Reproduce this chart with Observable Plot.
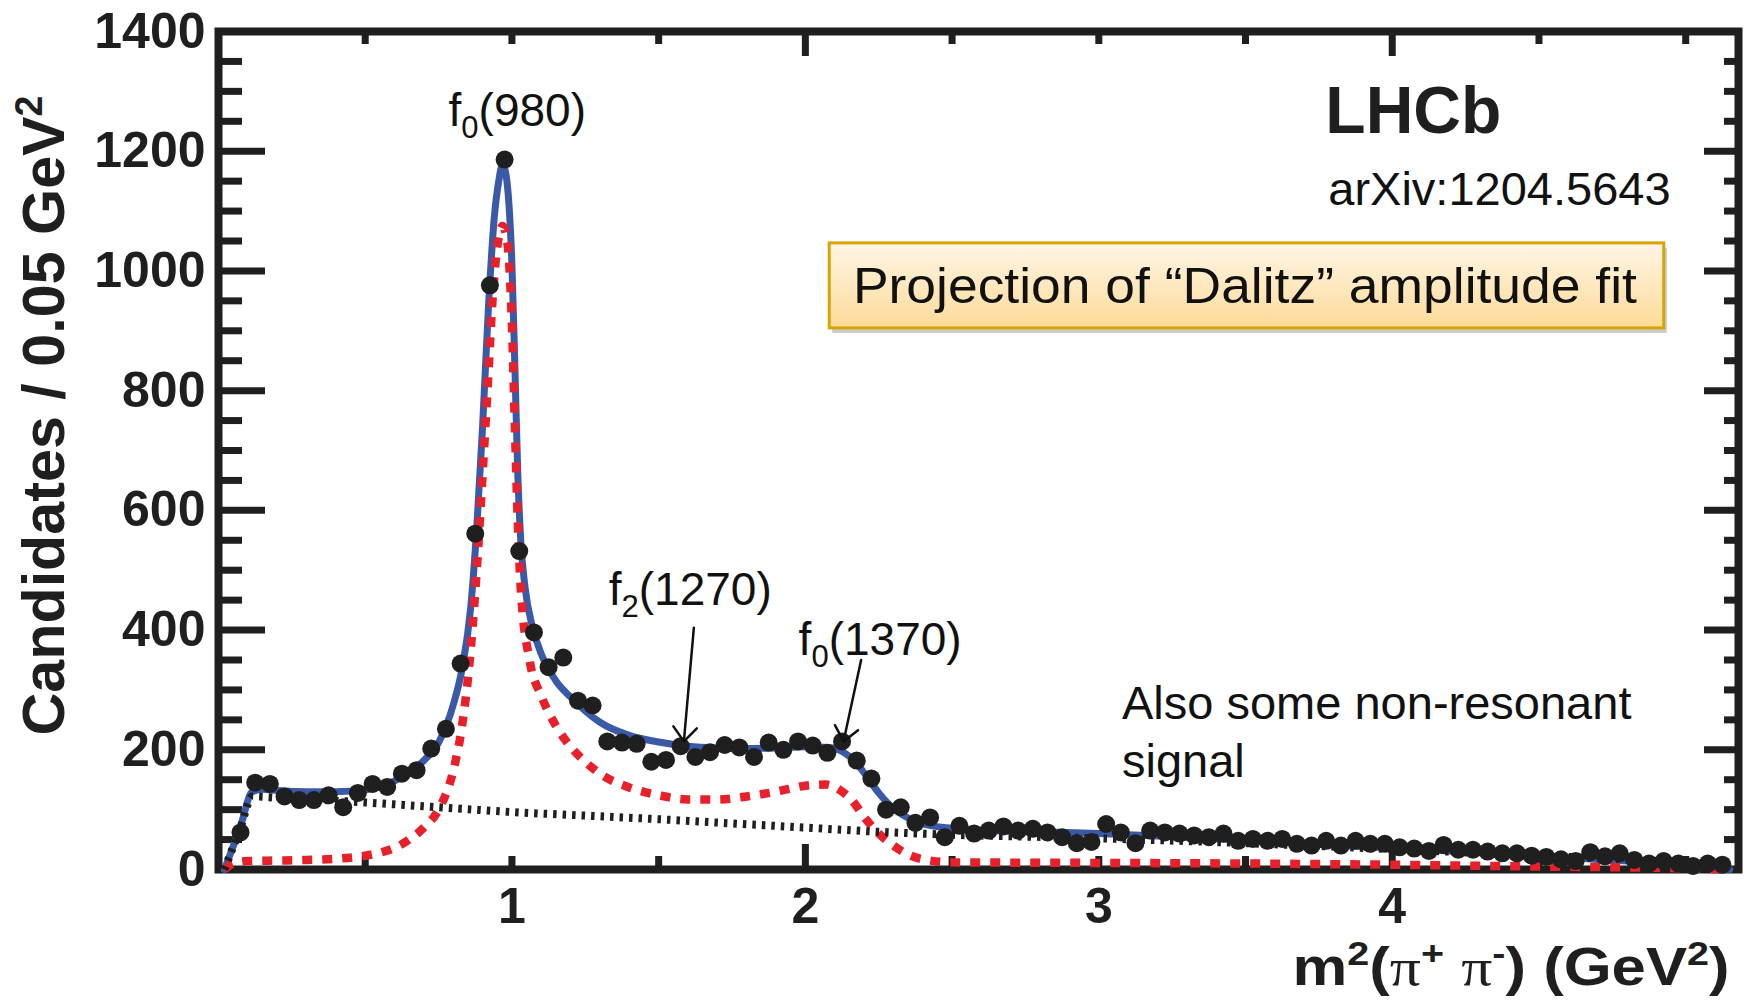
<!DOCTYPE html>
<html>
<head>
<meta charset="utf-8">
<script src="https://cdn.jsdelivr.net/npm/d3@7"></script>
<script src="https://cdn.jsdelivr.net/npm/@observablehq/plot@0.6"></script>
<style>
  html, body { margin: 0; padding: 0; background: #ffffff; }
  #chart { width: 1747px; height: 1005px; }
</style>
</head>
<body>
<div id="chart"></div>
<script>
// ---------------- data ----------------
const binCenters = [0.075,0.125,0.175,0.225,0.275,0.325,0.375,0.425,0.475,0.525,0.575,0.625,0.675,0.725,0.775,0.825,0.875,0.925,0.975,
  1.025,1.075,1.125,1.175,1.225,1.275,1.325,1.375,1.425,1.475,1.525,1.575,1.625,1.675,1.725,1.775,1.825,1.875,1.925,1.975,
  2.025,2.075,2.125,2.175,2.225,2.275,2.325,2.375,2.425,2.475,2.525,2.575,2.625,2.675,2.725,2.775,2.825,2.875,2.925,2.975,
  3.025,3.075,3.125,3.175,3.225,3.275,3.325,3.375,3.425,3.475,3.525,3.575,3.625,3.675,3.725,3.775,3.825,3.875,3.925,3.975,
  4.025,4.075,4.125,4.175,4.225,4.275,4.325,4.375,4.425,4.475,4.525,4.575,4.625,4.675,4.725,4.775,4.825,4.875,4.925,4.975,
  5.025,5.075,5.125];
const candidates = [62,145,143,122,116,116,124,104,128,143,138,160,166,202,235,344,561,976,1186,
  532,396,338,354,282,274,214,212,210,180,183,206,188,196,208,204,188,212,200,214,
  207,195,214,182,152,100,104,78,87,54,73,60,65,72,65,68,62,54,44,46,
  76,62,44,65,62,60,57,54,60,48,51,48,51,43,40,48,40,48,43,43,
  37,35,31,41,33,33,30,27,27,23,21,17,14,29,22,27,16,10,14,10,
  6,10,8];

// total fit (blue solid)
const fitX = [0.02,0.075,0.115,0.15,0.2,0.3,0.4,0.5,0.55,0.6,0.65,0.7,0.75,0.8,0.83,0.86,0.88,0.9,0.92,0.94,0.955,0.968,0.98,0.99,
  1.0,1.01,1.02,1.03,1.045,1.07,1.1,1.15,1.2,1.3,1.4,1.5,1.6,1.7,1.8,1.9,2.0,2.08,2.13,2.17,2.21,2.25,2.3,2.35,2.4,2.5,2.6,2.8,
  3.0,3.2,3.5,3.8,4.0,4.3,4.6,4.9,5.05,5.15];
const fitY = [0,72,130,134,132,130,130,133,138,148,162,182,212,275,335,440,570,740,940,1090,1150,1178,1160,1110,
  1010,840,660,550,470,405,360,315,288,246,224,213,206,203,202,203,205,204,196,180,155,128,102,86,76,69,66,63,
  60,56,49,41,36,28,20,11,5,0];

// resonant component (red dashed)
const resX = [0.02,0.05,0.1,0.2,0.3,0.4,0.5,0.55,0.6,0.65,0.7,0.75,0.8,0.83,0.86,0.88,0.9,0.92,0.935,0.95,0.968,0.985,
  1.0,1.01,1.02,1.03,1.06,1.1,1.15,1.2,1.25,1.3,1.4,1.5,1.6,1.7,1.8,1.9,2.0,2.07,2.12,2.16,2.2,2.25,2.3,2.35,2.4,2.5,
  3.0,3.5,4.0,4.5,5.0,5.15];
const resY = [0,10,14,15,16,18,23,28,36,50,70,100,165,240,370,500,660,830,960,1040,1075,1045,
  910,740,580,470,350,290,240,205,180,160,137,124,117,117,122,130,140,142,132,115,88,60,40,25,17,12,
  11,10,8,5,2,0];

// background component (black dotted)
const bkgX = [0.02,0.075,0.115,0.2,0.5,0.75,1.0,1.25,1.5,1.75,2.0,2.25,2.5,2.75,3.0,3.5,4.0,4.5,5.0,5.15];
const bkgY = [0,70,122,120,112,104,96,90,84,77,70,63,58,55,52,44,34,23,10,0];

// axes
const yMajorTicks = [0,200,400,600,800,1000,1200,1400];
const yMinorTicks = [50,100,150,250,300,350,450,500,550,650,700,750,850,900,950,1050,1100,1150,1250,1300,1350];
const xMajorTicks = [0,2,4];
const xMinorTicks = [0.5,1,1.5,2.5,3,3.5,4.5,5];
const xTickLabels = [1,2,3,4];
const xLabel = "m²(π⁺ π⁻) (GeV²)";
const yLabel = "Candidates / 0.05 GeV²";

// annotations
const peakLabels = [
  {text: "f₀(980)", x: 0.784, y: 1266},
  {text: "f₂(1270)", x: 1.33, y: 466},
  {text: "f₀(1370)", x: 1.977, y: 383}
];
const peakArrows = [
  {x1: 1.62, y1: 404, x2: 1.586, y2: 214},
  {x1: 2.19, y1: 350, x2: 2.13, y2: 214}
];
const experiment = [{text: "LHCb", x: 3.772, y: 1265}];
const reference = [{text: "arXiv:1204.5643", x: 3.782, y: 1136}];
const boxTitle = [{text: "Projection of “Dalitz” amplitude fit", x: 2.162, y: 973}];
const dalitzBox = [{x1: 2.083, x2: 4.927, y1: 904, y2: 1046}];
const note = [{text: "Also some non-resonant\nsignal", x: 3.079, y: 234}];

// ---------------- build tables ----------------
const points = binCenters.map((x, i) => ({x, y: candidates[i]}));
const fit = fitX.map((x, i) => ({x, y: fitY[i]}));
const res = resX.map((x, i) => ({x, y: resY[i]}));
const bkg = bkgX.map((x, i) => ({x, y: bkgY[i]}));

const ink = "#1f1f1f";
const blue = "#3a5aa8";
const red = "#e8202a";
const sans = "'Liberation Sans', Arial, Helvetica, sans-serif";
const blank = () => "";

const chart = Plot.plot({
  width: 1747,
  height: 1005,
  marginLeft: 218,
  marginRight: 9,
  marginTop: 31,
  marginBottom: 136,
  style: {fontFamily: sans, background: "#ffffff", color: ink},
  x: {domain: [0, 5.18], label: null},
  y: {domain: [0, 1400], label: null},
  marks: [
    // annotation box with shadow
    Plot.rect(dalitzBox, {x1: "x1", x2: "x2", y1: "y1", y2: "y2", fill: "#8a8a8a", fillOpacity: 0.45, dx: 3, dy: 5}),
    Plot.rect(dalitzBox, {x1: "x1", x2: "x2", y1: "y1", y2: "y2", fill: "url(#dalitzGrad)", stroke: "#d6a500", strokeWidth: 3}),
    // frame ticks (inward)
    Plot.axisY(yMajorTicks, {anchor: "left", tickSize: -47, tickFormat: blank, label: null, stroke: ink, strokeWidth: 7}),
    Plot.axisY(yMinorTicks, {anchor: "left", tickSize: -24, tickFormat: blank, label: null, stroke: ink, strokeWidth: 7}),
    Plot.axisY(yMajorTicks, {anchor: "right", tickSize: -35, tickFormat: blank, label: null, stroke: ink, strokeWidth: 7}),
    Plot.axisY(yMinorTicks, {anchor: "right", tickSize: -15, tickFormat: blank, label: null, stroke: ink, strokeWidth: 7}),
    Plot.axisX(xMajorTicks, {anchor: "bottom", tickSize: -25, tickFormat: blank, label: null, stroke: ink, strokeWidth: 7}),
    Plot.axisX(xMinorTicks, {anchor: "bottom", tickSize: -13, tickFormat: blank, label: null, stroke: ink, strokeWidth: 7}),
    Plot.axisX(xMajorTicks, {anchor: "top", tickSize: -24, tickFormat: blank, label: null, stroke: ink, strokeWidth: 7}),
    Plot.axisX(xMinorTicks, {anchor: "top", tickSize: -12, tickFormat: blank, label: null, stroke: ink, strokeWidth: 7}),
    // tick labels
    Plot.axisY(yMajorTicks, {anchor: "left", tickSize: 0, tickPadding: 13, label: null, fontSize: 50, fontWeight: "bold", fill: ink, tickFormat: d => String(d)}),
    Plot.axisX(xTickLabels, {anchor: "bottom", tickSize: 0, tickPadding: 18, label: null, fontSize: 50, fontWeight: "bold", fill: ink, tickFormat: d => String(d)}),
    // frame
    Plot.frame({stroke: ink, strokeWidth: 8}),
    // curves
    Plot.line(fit, {x: "x", y: "y", stroke: blue, strokeWidth: 7, curve: "monotone-x"}),
    Plot.line(res, {x: "x", y: "y", stroke: red, strokeWidth: 8.5, strokeDasharray: "10,10", strokeLinecap: "butt", strokeLinejoin: "miter", curve: "monotone-x"}),
    Plot.line(bkg, {x: "x", y: "y", stroke: ink, strokeWidth: 8, strokeDasharray: "3.5,6", strokeLinecap: "butt", strokeLinejoin: "miter", curve: "monotone-x"}),
    // data points
    Plot.dot(points, {x: "x", y: "y", r: 9, fill: ink, stroke: "none"}),
    // annotations
    Plot.arrow(peakArrows, {x1: "x1", y1: "y1", x2: "x2", y2: "y2", stroke: "#111", strokeWidth: 2.5, headLength: 11, headAngle: 80}),
    Plot.text(peakLabels, {x: "x", y: "y", text: "text", textAnchor: "start", lineAnchor: "middle", fontSize: 46, fill: "#111"}),
    Plot.text(experiment, {x: "x", y: "y", text: "text", textAnchor: "start", lineAnchor: "middle", fontSize: 66, fontWeight: "bold", fill: ink}),
    Plot.text(reference, {x: "x", y: "y", text: "text", textAnchor: "start", lineAnchor: "middle", fontSize: 47, fill: "#111"}),
    Plot.text(boxTitle, {x: "x", y: "y", text: "text", textAnchor: "start", lineAnchor: "middle", fontSize: 50, fill: "#111"}),
    Plot.text(note, {x: "x", y: "y", text: "text", textAnchor: "start", lineAnchor: "middle", fontSize: 47, lineHeight: 1.23, fill: "#111"}),
    // axis titles
    Plot.text([yLabel], {frameAnchor: "left", text: d => d, rotate: -90, dx: -174, dy: -35, textAnchor: "middle", lineAnchor: "middle",
      fontSize: 60, fontWeight: "bold", fontFamily: "'Liberation Sans Narrow', 'Liberation Sans', Arial, sans-serif", fill: ink}),
    Plot.text([xLabel], {frameAnchor: "bottom-right", text: d => d, dx: -9, dy: 99, textAnchor: "end", lineAnchor: "middle",
      fontSize: 53, fontWeight: "bold", fill: ink})
  ]
});

document.getElementById("chart").appendChild(chart);

// ---------------- post-processing: gradient + sub/superscripts ----------------
const svg = d3.select(chart.tagName === "svg" ? chart : chart.querySelector("svg"));
const defs = svg.insert("defs", ":first-child");
const grad = defs.append("linearGradient").attr("id", "dalitzGrad").attr("x1", 0).attr("y1", 0).attr("x2", 0).attr("y2", 1);
grad.append("stop").attr("offset", "0%").attr("stop-color", "#fff5e6");
grad.append("stop").attr("offset", "100%").attr("stop-color", "#fddb98");

const SUB = {"₀": "0", "₂": "2"};
const SUP = {"²": "2", "⁺": "+", "⁻": "-"};
function richText(el, o) {
  const str = el.textContent;
  const runs = [];
  for (const ch of str) {
    const kind = SUB[ch] ? "sub" : SUP[ch] ? "sup" : (ch === "π" ? "pi" : "n");
    const c = SUB[ch] || SUP[ch] || ch;
    if (runs.length && runs[runs.length - 1].kind === kind) runs[runs.length - 1].t += c;
    else runs.push({kind, t: c});
  }
  while (el.firstChild) el.removeChild(el.firstChild);
  let shift = 0;
  for (const r of runs) {
    const ts = document.createElementNS("http://www.w3.org/2000/svg", "tspan");
    const target = r.kind === "sub" ? o.subShift : r.kind === "sup" ? -o.supShift : 0;
    if (target !== shift) { ts.setAttribute("dy", target - shift); shift = target; }
    if (r.kind === "sub") ts.setAttribute("font-size", o.subSize);
    if (r.kind === "sup") ts.setAttribute("font-size", o.supSize);
    if (r.kind === "pi") { ts.setAttribute("font-family", "'Liberation Serif', 'DejaVu Serif', serif"); ts.setAttribute("font-weight", "normal"); }
    ts.textContent = r.t;
    el.appendChild(ts);
  }
}
svg.selectAll("text").each(function () {
  const t = this.textContent;
  if (t === xLabel) {
    richText(this, {subShift: 0, supShift: 20, subSize: 32, supSize: 34});
    this.setAttribute("textLength", 437);
    this.setAttribute("lengthAdjust", "spacingAndGlyphs");
  } else if (t === yLabel) {
    richText(this, {subShift: 0, supShift: 22, subSize: 36, supSize: 38});
    this.setAttribute("textLength", 640);
    this.setAttribute("lengthAdjust", "spacingAndGlyphs");
  } else if (t === boxTitle[0].text) {
    this.setAttribute("textLength", 784);
    this.setAttribute("lengthAdjust", "spacingAndGlyphs");
  } else if (/[₀₂]/.test(t)) {
    richText(this, {subShift: 12, supShift: 0, subSize: 31, supSize: 31});
  }
});
</script>
</body>
</html>
